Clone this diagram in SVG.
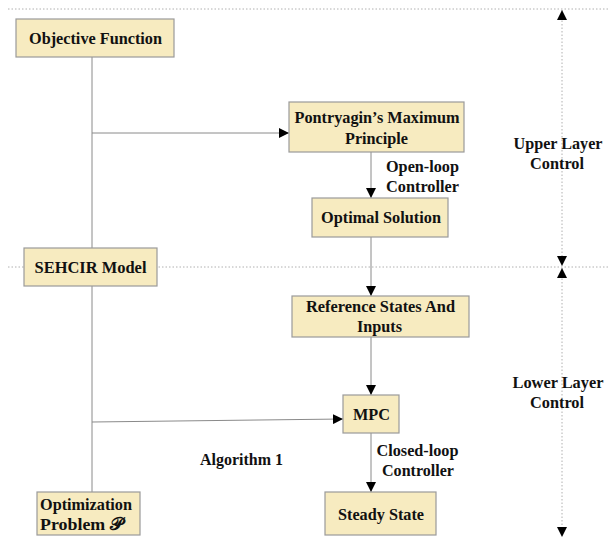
<svg xmlns="http://www.w3.org/2000/svg" width="608" height="542" viewBox="0 0 608 542">
<style>
.box{fill:#F7EBC0;stroke:#9a9a9a;stroke-width:1.2}
.t{font-family:'Liberation Serif',serif;font-weight:700;font-size:17.5px;fill:#111;text-anchor:middle}
.l{fill:none;stroke:#8a8a8a;stroke-width:1}
.d{fill:none;stroke:#b0b0b0;stroke-width:1;stroke-dasharray:1.5 2}
</style>
<defs>
<marker id="ah" viewBox="0 0 10 10" refX="10" refY="5" markerWidth="10" markerHeight="10" markerUnits="userSpaceOnUse" orient="auto">
<path d="M0,0 L10,5 L0,10 z" fill="#000"/>
</marker>
<marker id="ahs" viewBox="0 0 10 10" refX="10" refY="5" markerWidth="10" markerHeight="10" markerUnits="userSpaceOnUse" orient="auto-start-reverse">
<path d="M0,0 L10,5 L0,10 z" fill="#000"/>
</marker>
</defs>
<g id="guides">
<line class="d" x1="8" y1="9" x2="608" y2="9"/>
<line class="d" x1="8" y1="267" x2="608" y2="267"/>
<line class="d" x1="562" y1="10" x2="562" y2="266" marker-start="url(#ahs)" marker-end="url(#ahs)"/>
<line class="d" x1="562" y1="268" x2="562" y2="537" marker-start="url(#ahs)" marker-end="url(#ahs)"/>
</g>
<g id="connectors">
<line class="l" x1="92" y1="57" x2="92" y2="492"/>
<line class="l" x1="92" y1="133" x2="289" y2="133" marker-end="url(#ah)"/>
<line class="l" x1="371" y1="152" x2="371" y2="198" marker-end="url(#ah)"/>
<line class="l" x1="371" y1="237" x2="371" y2="296" marker-end="url(#ah)"/>
<line class="l" x1="371" y1="337" x2="371" y2="395" marker-end="url(#ah)"/>
<line class="l" x1="92" y1="422" x2="343" y2="419" marker-end="url(#ah)"/>
<line class="l" x1="371" y1="433" x2="371" y2="492" marker-end="url(#ah)"/>
</g>
<g id="objective"><rect class="box" x="16" y="19" width="158" height="38"/><text class="t" x="95.5" y="44" textLength="133" lengthAdjust="spacingAndGlyphs">Objective Function</text></g>
<g id="pontryagin"><rect class="box" x="289" y="102" width="175" height="50"/><text class="t" x="377" y="123" textLength="165" lengthAdjust="spacingAndGlyphs">Pontryagin’s Maximum</text><text class="t" x="376.5" y="144" textLength="63" lengthAdjust="spacingAndGlyphs">Principle</text></g>
<g id="optimal"><rect class="box" x="312" y="198" width="136" height="39"/><text class="t" x="381" y="223" textLength="120" lengthAdjust="spacingAndGlyphs">Optimal Solution</text></g>
<g id="sehcir"><rect class="box" x="24" y="248" width="133" height="38"/><text class="t" x="90.5" y="273" textLength="112" lengthAdjust="spacingAndGlyphs">SEHCIR Model</text></g>
<g id="reference"><rect class="box" x="292" y="296" width="177" height="41"/><text class="t" x="380.5" y="312" textLength="149" lengthAdjust="spacingAndGlyphs">Reference States And</text><text class="t" x="379.5" y="332" textLength="45" lengthAdjust="spacingAndGlyphs">Inputs</text></g>
<g id="mpc"><rect class="box" x="343" y="395" width="56" height="38"/><text class="t" x="371.5" y="420" textLength="37" lengthAdjust="spacingAndGlyphs">MPC</text></g>
<g id="steady"><rect class="box" x="325" y="492" width="111" height="43"/><text class="t" x="381" y="520" textLength="86" lengthAdjust="spacingAndGlyphs">Steady State</text></g>
<g id="optimization"><rect class="box" x="37" y="492" width="103" height="43"/><text class="t" x="86" y="510" textLength="92" lengthAdjust="spacingAndGlyphs">Optimization</text><text class="t" x="81.5" y="530" textLength="83" lengthAdjust="spacingAndGlyphs">Problem 𝒫</text></g>
<g id="labels">
<text class="t" x="422.5" y="172" textLength="73" lengthAdjust="spacingAndGlyphs">Open-loop</text>
<text class="t" x="422.5" y="192" textLength="73" lengthAdjust="spacingAndGlyphs">Controller</text>
<text class="t" x="417.5" y="456" textLength="82" lengthAdjust="spacingAndGlyphs">Closed-loop</text>
<text class="t" x="418" y="476" textLength="72" lengthAdjust="spacingAndGlyphs">Controller</text>
<text class="t" x="241.5" y="465" textLength="83" lengthAdjust="spacingAndGlyphs">Algorithm 1</text>
<text class="t" x="558" y="149" textLength="89" lengthAdjust="spacingAndGlyphs">Upper Layer</text>
<text class="t" x="557" y="169" textLength="54" lengthAdjust="spacingAndGlyphs">Control</text>
<text class="t" x="558" y="388" textLength="91" lengthAdjust="spacingAndGlyphs">Lower Layer</text>
<text class="t" x="557" y="408" textLength="54" lengthAdjust="spacingAndGlyphs">Control</text>
</g>
</svg>
